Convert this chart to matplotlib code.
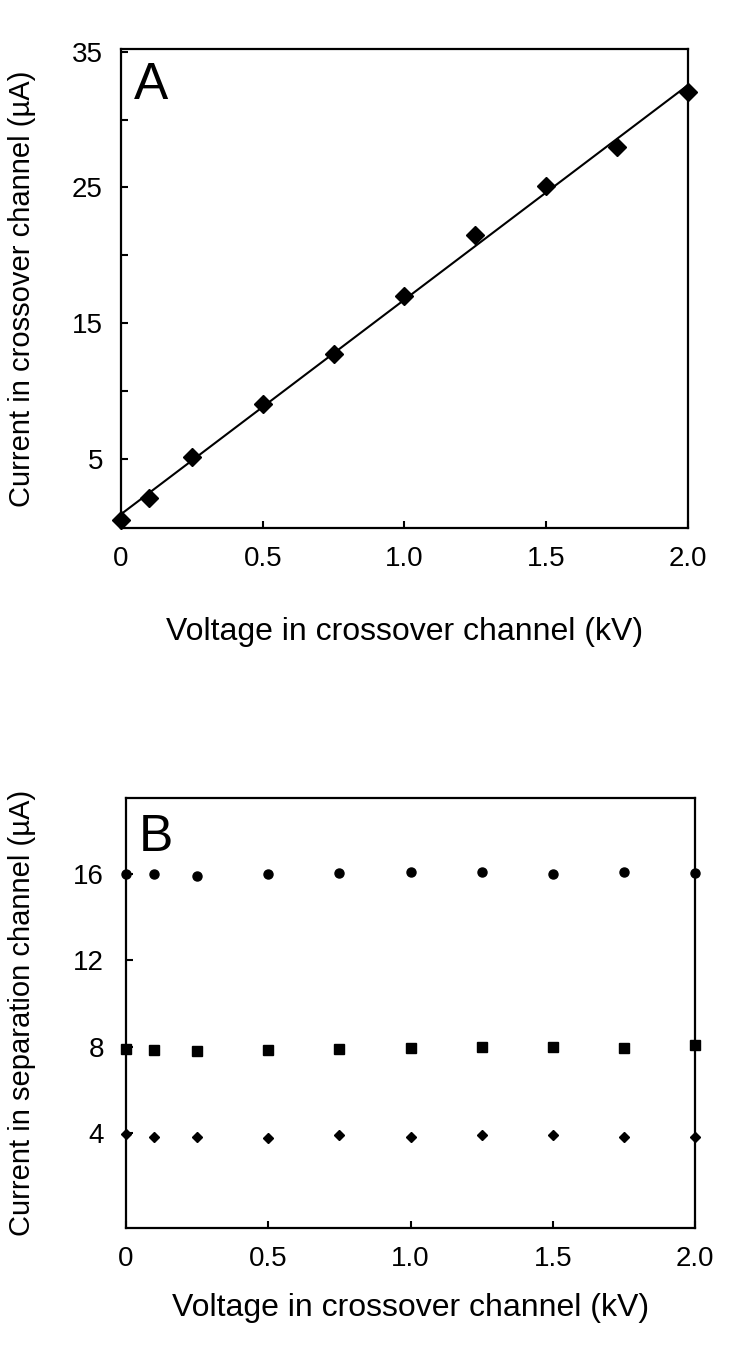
import numpy as np
import matplotlib
matplotlib.use('Agg')
import matplotlib.pyplot as plt

plt.rcParams['font.family'] = ['Liberation Sans', 'DejaVu Sans']

# panel A: current in crossover channel
volt_a = [0, 0.1, 0.25, 0.5, 0.75, 1.0, 1.25, 1.5, 1.75, 2.0]
curr_a = [0.45, 2.1, 5.15, 9.0, 12.7, 17.0, 21.5, 25.1, 28.0, 32.0]

# panel B: current in separation channel, three levels
volt_b = [0, 0.1, 0.25, 0.5, 0.75, 1.0, 1.25, 1.5, 1.75, 2.0]
sep_high = [16.0, 16.0, 15.9, 16.0, 16.05, 16.1, 16.1, 16.0, 16.1, 16.05]
sep_mid = [7.9, 7.85, 7.8, 7.85, 7.9, 7.95, 8.0, 8.0, 7.95, 8.05]
sep_low = [3.95, 3.8, 3.8, 3.77, 3.9, 3.8, 3.9, 3.9, 3.8, 3.83]

x_ticks = [0, 0.5, 1.0, 1.5, 2.0]
x_labels = ['0', '0.5', '1.0', '1.5', '2.0']
ya_ticks = [5, 10, 15, 20, 25, 30, 35]
ya_labels = ['5', '', '15', '', '25', '', '35']
yb_ticks = [4, 8, 12, 16]

fig = plt.figure(figsize=(7.5, 13.52), dpi=100)

def style(ax, ypad):
    for s in ax.spines.values():
        s.set_linewidth(1.6)
    ax.tick_params(direction='in', length=5, width=1.5, labelsize=20)
    ax.tick_params(axis='x', pad=13)
    ax.tick_params(axis='y', pad=ypad)
    ax.set_xticks(x_ticks)
    ax.set_xticklabels(x_labels)
    ax.set_xlim(0, 2.0)

# --- A ---
axa = fig.add_axes([0.1613, 0.6095, 0.756, 0.3543])
style(axa, 13)
axa.set_ylim(-0.1, 35.2)
axa.set_yticks(ya_ticks)
axa.set_yticklabels(ya_labels)
k, b = np.polyfit(volt_a, curr_a, 1)
xx = np.array([0, 2.0])
axa.plot(xx, k * xx + b, color='black', lw=1.5, clip_on=False)
axa.plot(volt_a, curr_a, 'D', color='black', ms=9, clip_on=False, zorder=5)
axa.text(0.022, 0.975, 'A', transform=axa.transAxes, fontsize=37, va='top', ha='left')
axa.set_xlabel('Voltage in crossover channel (kV)', fontsize=23, va='center')
axa.xaxis.set_label_coords(0.5, -0.217)
axa.set_ylabel('Current in crossover channel (µA)', fontsize=21, va='center')
axa.yaxis.set_label_coords(-0.1746, 0.5)

# --- B ---
axb = fig.add_axes([0.168, 0.0917, 0.7587, 0.318])
style(axb, 16)
axb.set_ylim(-0.4, 19.5)
axb.set_yticks(yb_ticks)
axb.plot(volt_b, sep_high, 'o', color='black', ms=6.5, clip_on=False, zorder=5)
axb.plot(volt_b, sep_mid, 's', color='black', ms=6.5, clip_on=False, zorder=5)
axb.plot(volt_b, sep_low, 'D', color='black', ms=5.5, clip_on=False, zorder=5)
axb.text(0.022, 0.965, 'B', transform=axb.transAxes, fontsize=37, va='top', ha='left')
axb.set_xlabel('Voltage in crossover channel (kV)', fontsize=23, va='center')
axb.xaxis.set_label_coords(0.5, -0.186)
axb.set_ylabel('Current in separation channel (µA)', fontsize=21, va='center')
axb.yaxis.set_label_coords(-0.1828, 0.5)

fig.savefig('out.png', dpi=100)
